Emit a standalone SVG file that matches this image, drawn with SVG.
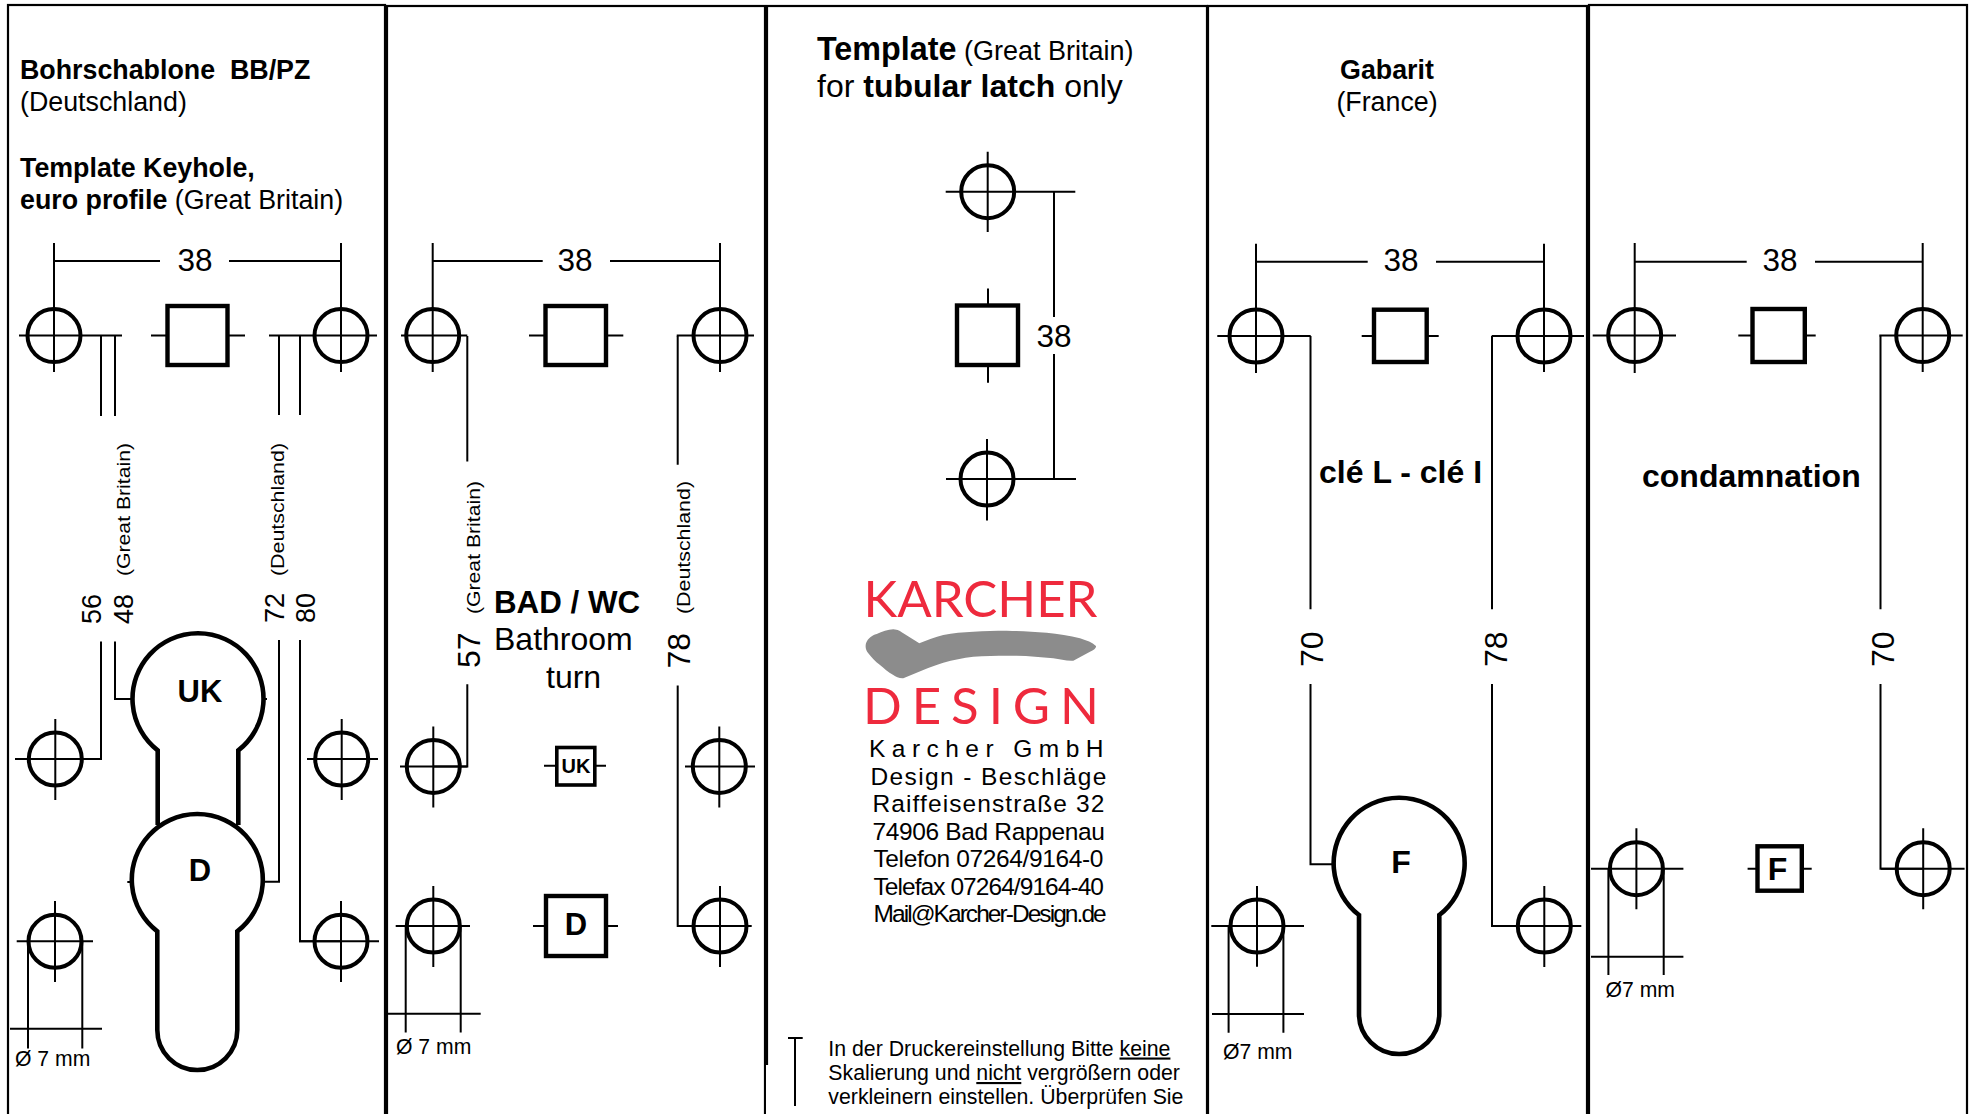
<svg xmlns="http://www.w3.org/2000/svg" width="1971" height="1114" viewBox="0 0 1971 1114">
<style>
text{font-family:"Liberation Sans",Arial,sans-serif;fill:#000}
.b{font-weight:700}
.ttl{font-size:26.8px}
.dim{font-size:31.5px}
.rot{font-size:19px}
.rn{font-size:28px}
.mm{font-size:21.2px}
.addr{font-size:24.5px}
.note{font-size:21.3px}
.l{stroke:#000;stroke-width:2;fill:none}
.h{stroke:#000;stroke-width:4;fill:none}
.s{stroke:#000;stroke-width:4.4;fill:#fff}
.k{stroke:#000;stroke-width:4.6;fill:#fff}
.p{stroke:#000;stroke-width:2.2;fill:none}
</style>
<rect width="1971" height="1114" fill="#fff"/>
<g id="panels">
<rect class="p" x="8" y="5" width="377" height="1200"/>
<rect class="p" x="387" y="6" width="378" height="1200"/>
<rect class="p" x="767" y="6" width="440" height="1200"/>
<rect class="p" x="1208" y="6" width="379" height="1200"/>
<rect class="p" x="1589" y="5" width="378" height="1200"/>
<rect x="766" y="1065" width="3" height="49" fill="#fff"/>
</g>

<g id="connectors">
<path class="l" d="M54 261H160M229 261H341"/>
<path class="l" d="M101 336V416M115 336V416M279 336V415M300 336V415"/>
<path class="l" d="M101 641.500V759H55M115 641.500V699H132M279 640V881.700H264M300 640V941.300H341"/>
<path class="l" d="M28 941V1048.500M82.300 941V1048.500M10 1028.800H102"/>

<path class="l" d="M432.700 261H542.700M610 261H720"/>
<path class="l" d="M467.300 336V461.600M677.700 336V464.800"/>
<path class="l" d="M467.300 684.300V766.400H433M677.700 685.400V926H720"/>
<path class="l" d="M405.700 926V1032.400M460.700 926V1032.400M388 1013.800H480.700"/>

<path class="l" d="M1054 192V317M1054 354V479"/>

<path class="l" d="M1256 261.700H1367.700M1436 261.700H1544"/>
<path class="l" d="M1310.500 336V609.300M1310.500 684V864.300H1334M1492 336V609.300M1492 684V926H1544"/>
<path class="l" d="M1228.600 926V1032.700M1283.400 926V1032.700M1212 1014H1304"/>

<path class="l" d="M1634.700 261.700H1746.700M1815 261.700H1922.700"/>
<path class="l" d="M1880.500 336V609.300M1880.500 684V868.700H1923"/>
<path class="l" d="M1608.400 868.700V975M1663.700 868.700V975M1591 956.700H1683.400"/>

<path class="l" d="M795 1038V1106M788 1038H802.700"/>
</g>

<g id="panel-1">
<g id="p1-title">
<text class="ttl b" x="20" y="78.500" xml:space="preserve">Bohrschablone  BB/PZ</text>
<text class="ttl" x="20" y="110.700">(Deutschland)</text>
<text class="ttl b" x="20" y="176.700">Template Keyhole,</text>
<text class="ttl" x="20" y="208.800"><tspan class="b">euro profile</tspan> (Great Britain)</text>
</g>
<text class="dim" x="195" y="271" text-anchor="middle">38</text>
<g id="p1-hole-1"><circle class="h" cx="54" cy="335.600" r="26.500"/><path class="l" d="M19 335.600H122M54 243V372"/></g>
<g id="p1-hole-2"><circle class="h" cx="341" cy="335.600" r="26.500"/><path class="l" d="M269 335.600H377M341 243V372"/></g>
<g id="p1-square"><path class="l" d="M151 335.600H245"/><rect class="s" x="167.500" y="306" width="60" height="59"/></g>
<g id="p1-hole-3"><circle class="h" cx="55.300" cy="759" r="26.500"/><path class="l" d="M15 759H101.700M55.300 719V800"/></g>
<g id="p1-hole-4"><circle class="h" cx="341.700" cy="759" r="26.500"/><path class="l" d="M307 759H378M341.700 719V800"/></g>
<g id="p1-hole-5"><circle class="h" cx="55" cy="941.300" r="26.500"/><path class="l" d="M16.700 941.300H93M55 901V982"/></g>
<g id="p1-hole-6"><circle class="h" cx="341" cy="941.300" r="26.500"/><path class="l" d="M299 941.300H379M341 901V982"/></g>
<g id="p1-keyhole-uk">
<path class="k" d="M157.700 825V750.400A65.500 65.500 0 1 1 238.300 750.400V825"/>
<path class="l" d="M264 699H267"/>
<text class="b" style="font-size:31px" x="200" y="702" text-anchor="middle">UK</text>
</g>
<g id="p1-keyhole-d">
<path class="l" d="M127.300 882H131"/>
<path class="k" d="M157.300 1030V931.400A65.500 65.500 0 1 1 237.300 931.400V1030A40 40 0 0 1 157.300 1030Z"/>
<text class="b" style="font-size:31px" x="200" y="880.700" text-anchor="middle">D</text>
</g>
<text class="mm" x="15" y="1066">Ø 7 mm</text>
<text class="rot" transform="rotate(-90 130 576)" x="130" y="576" textLength="133" lengthAdjust="spacingAndGlyphs">(Great Britain)</text>
<text class="rot" transform="rotate(-90 283.500 576)" x="283.500" y="576" textLength="133" lengthAdjust="spacingAndGlyphs">(Deutschland)</text>
<text class="rn" transform="rotate(-90 100.500 624)" x="100.500" y="624" textLength="30" lengthAdjust="spacingAndGlyphs">56</text>
<text class="rn" transform="rotate(-90 132.500 624)" x="132.500" y="624" textLength="30" lengthAdjust="spacingAndGlyphs">48</text>
<text class="rn" transform="rotate(-90 283.500 623)" x="283.500" y="623" textLength="30" lengthAdjust="spacingAndGlyphs">72</text>
<text class="rn" transform="rotate(-90 315 623)" x="315" y="623" textLength="30" lengthAdjust="spacingAndGlyphs">80</text>
</g>

<g id="panel-2">
<text class="dim" x="575" y="271" text-anchor="middle">38</text>
<g id="p2-hole-1"><circle class="h" cx="432.700" cy="335.600" r="26.500"/><path class="l" d="M401 335.600H467.300M432.700 243V372"/></g>
<g id="p2-hole-2"><circle class="h" cx="720" cy="335.600" r="26.500"/><path class="l" d="M676.700 335.600H754M720 243V372"/></g>
<g id="p2-square"><path class="l" d="M529 335.600H623.300"/><rect class="s" x="545.500" y="306" width="60.500" height="59"/></g>
<g id="p2-hole-3"><circle class="h" cx="433.300" cy="766.400" r="26.500"/><path class="l" d="M400 766.400H467.300M433.300 726.400V807.500"/></g>
<g id="p2-hole-4"><circle class="h" cx="719.300" cy="766.400" r="26.500"/><path class="l" d="M685 766.400H755M719.300 726.400V807.500"/></g>
<g id="p2-hole-5"><circle class="h" cx="433.300" cy="926" r="26.500"/><path class="l" d="M395.700 926H470M433.300 886V967"/></g>
<g id="p2-hole-6"><circle class="h" cx="720" cy="926" r="26.500"/><path class="l" d="M677 926H751.700M720 886V967"/></g>
<g id="p2-uk">
<path class="l" d="M544 765.700H606"/><rect class="s" style="stroke-width:3.600" x="556.800" y="747.500" width="38" height="37.500"/>
<text class="b" style="font-size:20px" x="576" y="772.500" text-anchor="middle">UK</text>
</g>
<g id="p2-d">
<path class="l" d="M533 926H618"/><rect class="s" x="546" y="896" width="60" height="60"/>
<text class="b" style="font-size:31px" x="576" y="935" text-anchor="middle">D</text>
</g>
<text class="b" style="font-size:31.300px" x="494" y="612.500">BAD / WC</text>
<text style="font-size:32px" x="494" y="650">Bathroom</text>
<text style="font-size:32px" x="546" y="687.500">turn</text>
<text class="mm" x="396" y="1053.800">Ø 7 mm</text>
<text class="rot" transform="rotate(-90 480 614)" x="480" y="614" textLength="133" lengthAdjust="spacingAndGlyphs">(Great Britain)</text>
<text class="rot" transform="rotate(-90 689.500 614)" x="689.500" y="614" textLength="133" lengthAdjust="spacingAndGlyphs">(Deutschland)</text>
<text class="dim" transform="rotate(-90 480 668)" x="480" y="668" textLength="35.500" lengthAdjust="spacingAndGlyphs">57</text>
<text class="dim" transform="rotate(-90 690 668.500)" x="690" y="668.500" textLength="35.500" lengthAdjust="spacingAndGlyphs">78</text>
</g>

<g id="panel-3">
<g id="p3-title">
<text style="font-size:27px" x="817" y="59.500"><tspan class="b" style="font-size:32.300px">Template</tspan> (Great Britain)</text>
<text style="font-size:32px" x="817" y="97">for <tspan class="b">tubular latch</tspan> only</text>
</g>
<g id="p3-hole-1"><circle class="h" cx="987.700" cy="191.700" r="26.500"/><path class="l" d="M945.700 191.700H1075.300M987.700 151.700V232"/></g>
<g id="p3-square"><path class="l" d="M988 288.500V382.700"/><rect class="s" x="957" y="305.500" width="61" height="59.500"/></g>
<g id="p3-hole-2"><circle class="h" cx="987" cy="479" r="26.500"/><path class="l" d="M946 479H1076M987 439V520.500"/></g>
<text class="dim" x="1054" y="347.400" text-anchor="middle">38</text>
<g id="logo">
<text x="863.500" y="617" textLength="234" lengthAdjust="spacingAndGlyphs" style="font-family:Lato,'Liberation Sans',sans-serif;font-size:50px;fill:#ee2a3d">KARCHER</text>
<path fill="#8c8c8c" d="M866 643.300C868 638 872 635.500 876.700 634C882 631.500 888 629.300 893.300 629.300C898 629.500 900 631 903.300 633.300L919.300 643.300C927 640.500 935 637 943.300 635C953 633 963 632.300 973.300 631.700C985 631 995 630.700 1006.700 630.700C1020 631 1033 631.500 1046.700 632.700C1058 634 1070 635.800 1080 638.300C1087 640.500 1092 642.500 1096 646C1096.500 648 1094 650 1090 651.700L1073.300 660.700C1066 661 1060 659.300 1053.300 658.300C1041 657 1029 656 1016.700 655.700C1003 655.500 988 655.700 973.300 656.700C963 658 953 660 943.300 662.700C936 664.800 930 667.300 923.300 670L903.300 678.300C899 678.500 896 677 893.300 675C888 672 884 668.500 880 665C875 661.500 871.500 657.500 868.300 653.300C866 650.500 865 647 866 643.300Z"/>
<text x="863" y="724" textLength="236" lengthAdjust="spacing" style="font-family:Lato,'Liberation Sans',sans-serif;font-size:51px;fill:#ee2a3d">DESIGN</text>
</g>
<g id="address">
<text class="addr" x="869" y="756.800" textLength="234.500" lengthAdjust="spacing">Karcher GmbH</text>
<text class="addr" x="870.500" y="785" textLength="236" lengthAdjust="spacing">Design - Beschläge</text>
<text class="addr" x="872.500" y="811.500" textLength="231.800" lengthAdjust="spacing">Raiffeisenstraße 32</text>
<text class="addr" x="872.500" y="839.600" textLength="232.500" lengthAdjust="spacing">74906 Bad Rappenau</text>
<text class="addr" x="873.500" y="866.500" textLength="229.800" lengthAdjust="spacing">Telefon 07264/9164-0</text>
<text class="addr" x="873.500" y="894.600" textLength="230.500" lengthAdjust="spacing">Telefax 07264/9164-40</text>
<text class="addr" x="873.500" y="921.600" textLength="233.200" lengthAdjust="spacing">Mail@Karcher-Design.de</text>
</g>
<g id="note">
<text class="note" x="828.300" y="1055.500">In der Druckereinstellung Bitte <tspan text-decoration="underline">keine</tspan></text>
<text class="note" x="828.300" y="1080">Skalierung und <tspan text-decoration="underline">nicht</tspan> vergrößern oder</text>
<text class="note" x="828.300" y="1103.500">verkleinern einstellen. Überprüfen Sie</text>
</g>
</g>

<g id="panel-4">
<text class="ttl b" x="1387" y="78.500" text-anchor="middle">Gabarit</text>
<text class="ttl" x="1387" y="110.700" text-anchor="middle">(France)</text>
<text class="dim" x="1401" y="271" text-anchor="middle">38</text>
<g id="p4-hole-1"><circle class="h" cx="1256" cy="336" r="26.500"/><path class="l" d="M1217.300 336H1310.700M1256 243.800V373"/></g>
<g id="p4-hole-2"><circle class="h" cx="1544" cy="336" r="26.500"/><path class="l" d="M1491.700 336H1584M1544 243.800V372"/></g>
<g id="p4-square"><path class="l" d="M1361.700 336H1438.700"/><rect class="s" x="1374" y="309.700" width="52.700" height="52.300"/></g>
<text class="b" style="font-size:32px" x="1319" y="483">clé L - clé I</text>
<g id="p4-keyhole-f">
<path class="k" d="M1359 1014V915A65.500 65.500 0 1 1 1439.300 915V1014A40.150 40 0 0 1 1359 1014Z"/>
<text class="b" style="font-size:32px" x="1401" y="873.300" text-anchor="middle">F</text>
</g>
<g id="p4-hole-3"><circle class="h" cx="1257" cy="926" r="26.500"/><path class="l" d="M1211.300 926H1304M1257 886V966.700"/></g>
<g id="p4-hole-4"><circle class="h" cx="1544.300" cy="926" r="26.500"/><path class="l" d="M1491 926H1581.300M1544.300 886V967"/></g>
<text class="mm" x="1223" y="1059">Ø7 mm</text>
<text class="dim" transform="rotate(-90 1323 667)" x="1323" y="667" textLength="35.500" lengthAdjust="spacingAndGlyphs">70</text>
<text class="dim" transform="rotate(-90 1506.500 667)" x="1506.500" y="667" textLength="35.500" lengthAdjust="spacingAndGlyphs">78</text>
</g>

<g id="panel-5">
<text class="dim" x="1780" y="271" text-anchor="middle">38</text>
<g id="p5-hole-1"><circle class="h" cx="1634.700" cy="335.600" r="26.500"/><path class="l" d="M1592.700 335.600H1676M1634.700 243V373"/></g>
<g id="p5-hole-2"><circle class="h" cx="1922.700" cy="335.600" r="26.500"/><path class="l" d="M1879.300 335.600H1962.700M1922.700 243V372"/></g>
<g id="p5-square"><path class="l" d="M1738.300 335.600H1815.700"/><rect class="s" x="1752.500" y="309" width="52.300" height="53"/></g>
<text class="b" style="font-size:32px" x="1642" y="486.500">condamnation</text>
<g id="p5-hole-3"><circle class="h" cx="1636.400" cy="868.700" r="26.500"/><path class="l" d="M1591 868.700H1683.400M1636.400 828.300V909.300"/></g>
<g id="p5-hole-4"><circle class="h" cx="1923.200" cy="868.700" r="26.500"/><path class="l" d="M1881 868.700H1964.600M1923.200 828.300V909.300"/></g>
<g id="p5-f">
<path class="l" d="M1747.600 868.700H1811.700"/><rect class="s" x="1757.500" y="846.300" width="44.300" height="44.400"/>
<text class="b" style="font-size:32px" x="1777.500" y="880" text-anchor="middle">F</text>
</g>
<text class="mm" x="1605.500" y="996.700">Ø7 mm</text>
<text class="dim" transform="rotate(-90 1893.500 667)" x="1893.500" y="667" textLength="35.500" lengthAdjust="spacingAndGlyphs">70</text>
</g>
</svg>
